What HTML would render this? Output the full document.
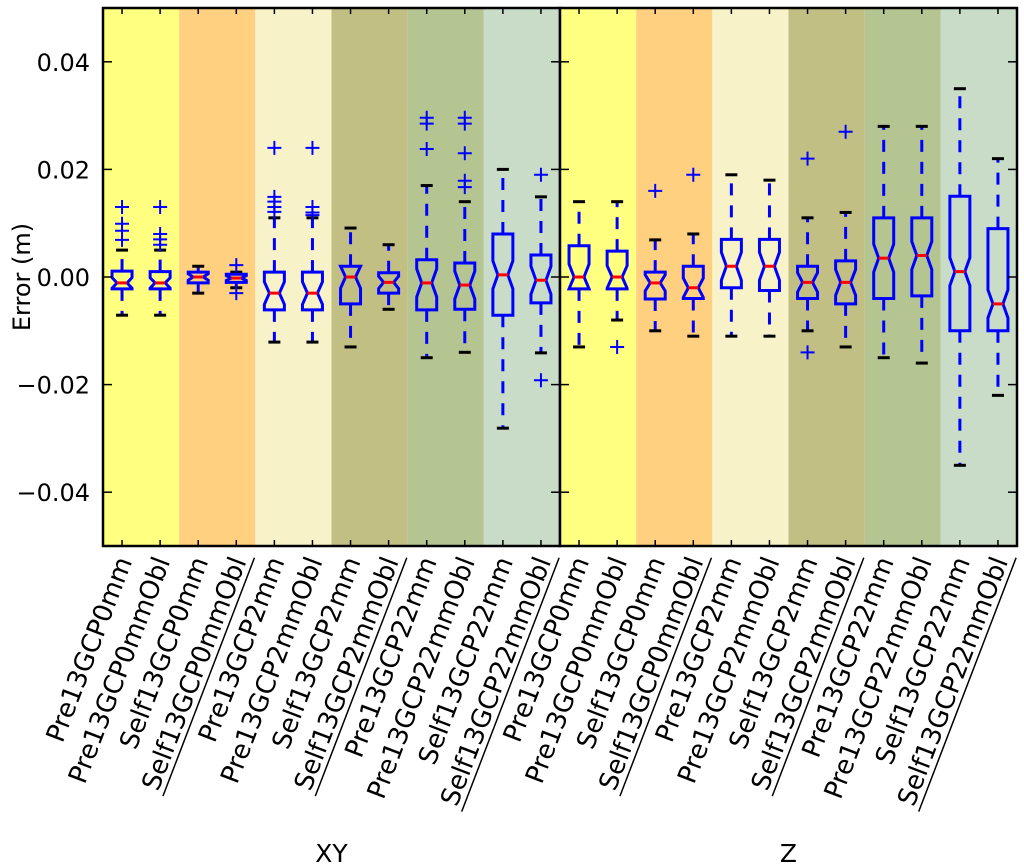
<!DOCTYPE html>
<html><head><meta charset="utf-8"><style>
html,body{margin:0;padding:0;background:#fff;}
svg{display:block;font-family:"DejaVu Sans","Liberation Sans",sans-serif;}
</style></head><body>
<svg id="chart" width="1024" height="868" xmlns="http://www.w3.org/2000/svg"></svg>
<script>
const categories=["Pre13GCP0mm","Pre13GCP0mmObl","Self13GCP0mm","Self13GCP0mmObl","Pre13GCP2mm","Pre13GCP2mmObl","Self13GCP2mm","Self13GCP2mmObl","Pre13GCP22mm","Pre13GCP22mmObl","Self13GCP22mm","Self13GCP22mmObl"];
const panels=["XY","Z"];
const bandColors=["#ffff80","#ffd080","#f7f2c8","#c2bf85","#b5c591","#c8dcc8"];
const yTicks=[0.04,0.02,0.00,-0.02,-0.04];
const yTickLabels=["0.04","0.02","0.00","\u22120.02","\u22120.04"];
// XY panel
const xyQ1=[-0.0022,-0.0022,-0.0011,-0.001,-0.0061,-0.0061,-0.005,-0.003,-0.0061,-0.006,-0.0071,-0.0048];
const xyQ3=[0.0011,0.001,0.0009,0.0005,0.0009,0.0009,0.002,0.0008,0.0032,0.0026,0.008,0.0041];
const xyMed=[-0.0011,-0.0011,0,-0.0002,-0.003,-0.003,0,-0.001,-0.0011,-0.0015,0.0004,-0.0006];
const xyLo=[-0.0071,-0.0071,-0.003,-0.002,-0.0121,-0.0121,-0.013,-0.006,-0.015,-0.014,-0.0281,-0.0141];
const xyHi=[0.005,0.005,0.002,0.0009,0.011,0.011,0.0091,0.006,0.017,0.014,0.02,0.0149];
const xyFliers=[[0.013,0.0099,0.0086,0.0069],[0.013,0.008,0.007,0.006],[],[0.0022,-0.003],[0.024,0.0149,0.014,0.013,0.0121],[0.024,0.013,0.012,0.0115],[],[],[0.0296,0.0285,0.0238],[0.0296,0.0285,0.023,0.0179,0.0167],[],[0.019,-0.0192]];
// Z panel
const zQ1=[-0.0022,-0.0022,-0.0041,-0.004,-0.002,-0.0025,-0.004,-0.005,-0.004,-0.0035,-0.010,-0.010];
const zQ3=[0.0058,0.0048,0.0009,0.002,0.007,0.007,0.002,0.003,0.011,0.011,0.015,0.009];
const zMed=[0,0,-0.0011,-0.002,0.002,0.002,-0.001,-0.001,0.0035,0.004,0.001,-0.005];
const zLo=[-0.013,-0.008,-0.010,-0.011,-0.011,-0.011,-0.010,-0.013,-0.015,-0.016,-0.035,-0.022];
const zHi=[0.014,0.014,0.0069,0.008,0.019,0.018,0.011,0.012,0.028,0.028,0.035,0.022];
const zFliers=[[],[-0.013],[0.016],[0.019],[],[],[0.022,-0.014],[0.027],[],[],[],[]];

const NS="http://www.w3.org/2000/svg";
const svgEl=document.getElementById('chart');
function mk(tag,attrs,parent){const e=document.createElementNS(NS,tag);for(const k in attrs)e.setAttribute(k,attrs[k]);(parent||svgEl).appendChild(e);return e;}
const plotTop=8,plotBot=546,yMin=-0.05,yMax=0.05;
function yS(v){return plotBot-(v-yMin)/(yMax-yMin)*(plotBot-plotTop);}
const panelX=[103,560],panelW=457,step=panelW/12;
function xS(p,i){return panelX[p]+step*(i+0.5);}

const defs=mk('defs',{});
panels.forEach((pn,p)=>{
  const cp=mk('clipPath',{id:'clip'+p},defs);
  mk('rect',{x:panelX[p],y:plotTop,width:panelW,height:plotBot-plotTop},cp);
});

panels.forEach((pn,p)=>{
  const g=mk('g',{'clip-path':'url(#clip'+p+')'});
  
  
  bandColors.forEach((c,b)=>{
    const r=mk('rect',{x:panelX[p]+b*2*step,y:plotTop,width:2*step,height:plotBot-plotTop,fill:c},g);
    
    
  });
  const Q1=p?zQ1:xyQ1,Q3=p?zQ3:xyQ3,MED=p?zMed:xyMed,LO=p?zLo:xyLo,HI=p?zHi:xyHi,FL=p?zFliers:xyFliers;
  categories.forEach((c,i)=>{
    const x=xS(p,i),bg=mk('g',{},g);
    
    
    const yq1=yS(Q1[i]),yq3=yS(Q3[i]),ym=yS(MED[i]);
    mk('line',{x1:x,x2:x,y1:yq3,y2:yS(HI[i]),stroke:'#0000ff','stroke-width':3,'stroke-dasharray':'12,10'},bg);
    mk('line',{x1:x,x2:x,y1:yq1,y2:yS(LO[i]),stroke:'#0000ff','stroke-width':3,'stroke-dasharray':'12,10'},bg);
    mk('line',{x1:x-6,x2:x+6,y1:yS(HI[i]),y2:yS(HI[i]),stroke:'#000','stroke-width':3},bg);
    mk('line',{x1:x-6,x2:x+6,y1:yS(LO[i]),y2:yS(LO[i]),stroke:'#000','stroke-width':3},bg);
    const iqr=yq1-yq3,nh=Math.min(iqr*0.3,14);
    const nt=Math.max(ym-nh,yq3),nb=Math.min(ym+nh,yq1);
    const w=10,wn=5;
    mk('path',{d:`M${x-w},${yq3}L${x+w},${yq3}L${x+w},${nt}L${x+wn},${ym}L${x+w},${nb}L${x+w},${yq1}L${x-w},${yq1}L${x-w},${nb}L${x-wn},${ym}L${x-w},${nt}Z`,fill:'none',stroke:'#0000ff','stroke-width':3,'stroke-linejoin':'miter'},bg);
    mk('line',{x1:x-wn,x2:x+wn,y1:ym,y2:ym,stroke:'#ff0000','stroke-width':3},bg);
    FL[i].forEach(f=>{
      const fy=yS(f);
      const pl=mk('path',{d:`M${x-7},${fy}H${x+7}M${x},${fy-7}V${fy+7}`,stroke:'#0000ff','stroke-width':2},bg);
      
      
    });
  });
  const fr=mk('rect',{x:panelX[p],y:plotTop,width:panelW,height:plotBot-plotTop,fill:'none',stroke:'#000','stroke-width':2.5});
  
  
  yTicks.forEach(t=>{
    const y=yS(t);
    mk('line',{x1:panelX[p],x2:panelX[p]+9,y1:y,y2:y,stroke:'#000','stroke-width':1.5});
    mk('line',{x1:panelX[p]+panelW-9,x2:panelX[p]+panelW,y1:y,y2:y,stroke:'#000','stroke-width':1.5});
  });
  categories.forEach((c,i)=>{
    const x=xS(p,i);
    mk('line',{x1:x,x2:x,y1:plotBot,y2:plotBot-6,stroke:'#000','stroke-width':1.5});
    mk('line',{x1:x,x2:x,y1:plotTop,y2:plotTop+6,stroke:'#000','stroke-width':1.5});
    const tg=mk('g',{transform:`translate(${x+2},${plotBot+12}) rotate(-69)`});
    const t=mk('text',{x:0,y:9,'text-anchor':'end','font-size':26,fill:'#000'},tg);
    t.textContent=c;
    
    
    if(c.startsWith('Self')&&c.endsWith('Obl')){
      const len=t.getComputedTextLength();
      mk('line',{x1:-len-2,x2:6,y1:15,y2:15,stroke:'#000','stroke-width':1.5},tg);
    }
  });
  const pt=mk('text',{x:panelX[p]+panelW/2,y:862,'text-anchor':'middle','font-size':25,fill:'#000'});
  pt.textContent=pn;
  
  
});
yTicks.forEach((t,i)=>{
  const tx=mk('text',{x:90,y:yS(t)+9,'text-anchor':'end','font-size':24,fill:'#000'});
  tx.textContent=yTickLabels[i];
  
  
});
const yl=mk('text',{x:0,y:0,transform:'translate(30,277) rotate(-90)','text-anchor':'middle','font-size':24,fill:'#000'});
yl.textContent='Error (m)';


</script>
</body></html>
